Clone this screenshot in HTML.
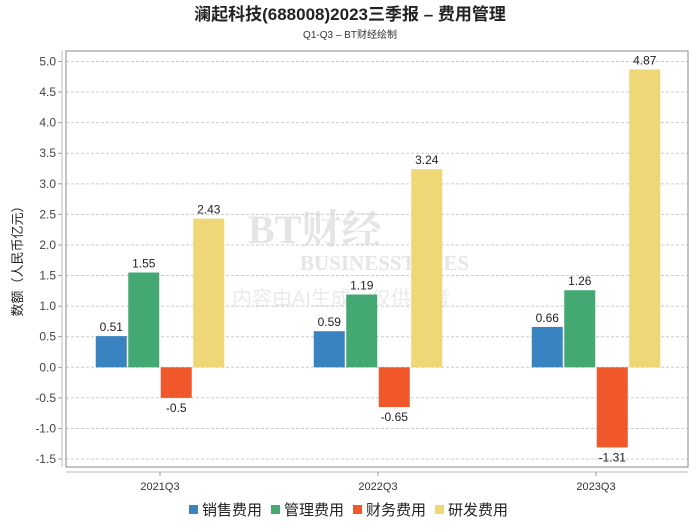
<!DOCTYPE html>
<html><head><meta charset="utf-8"><style>
body{margin:0;background:#fff;}
svg text{font-family:"Liberation Sans","Noto Sans CJK SC",sans-serif;}
</style></head><body>
<svg id="c" width="700" height="524" xmlns="http://www.w3.org/2000/svg">
<text x="350" y="20" text-anchor="middle" font-size="17" font-weight="bold" fill="#222">澜起科技(688008)2023三季报 – 费用管理</text>
<text x="350" y="38" text-anchor="middle" font-size="10" fill="#333">Q1-Q3 – BT财经绘制</text>
<g id="wm" opacity="0.3">
<text x="248" y="243" font-size="40" font-weight="bold" fill="#aaa" style="font-family:'Liberation Serif','Noto Serif CJK SC',serif">BT财经</text>
<text x="300" y="270" font-size="21" font-weight="bold" fill="#aaa" style="font-family:'Liberation Serif',serif">BUSINESSTIMES</text>
<text x="232" y="305" font-size="20" fill="#bbb">内容由AI生成，仅供参考</text>
</g>
<g id="grid"></g><g id="bars"></g><g id="axes"></g>
<text transform="translate(22,258) rotate(-90)" text-anchor="middle" font-size="13" fill="#222">数额（人民币亿元）</text>
<g id="legend"></g>
</svg>
<script>
const categories=["2021Q3","2022Q3","2023Q3"];
const seriesNames=["销售费用","管理费用","财务费用","研发费用"];
const colors=["#3a83c1","#44a872","#f0572a","#efd677"];
const sales=[0.51,0.59,0.66];
const admin=[1.55,1.19,1.26];
const finance=[-0.5,-0.65,-1.31];
const rnd=[2.43,3.24,4.87];
const yTicks=[5.0,4.5,4.0,3.5,3.0,2.5,2.0,1.5,1.0,0.5,0.0,-0.5,-1.0,-1.5];
const series=[sales,admin,finance,rnd];
const NS="http://www.w3.org/2000/svg";
const L=66,R=688,T=51,B=467;
const y=v=>367.3-v*61.16;
const cx=i=>160+218*i;
function mk(tag,at,p){const e=document.createElementNS(NS,tag);for(const k in at)e.setAttribute(k,at[k]);document.getElementById(p).appendChild(e);return e;}
yTicks.forEach(t=>{
 const l=mk('line',{x1:L,x2:R,y1:y(t),y2:y(t),stroke:'#ccc','stroke-dasharray':'3,2'},'grid');
 
 
 mk('line',{x1:58,x2:62,y1:y(t),y2:y(t),stroke:'#999'},'axes');
 const tx=mk('text',{x:56,y:y(t)+4,'text-anchor':'end','font-size':12,fill:'#444'},'axes');
 tx.textContent=t.toFixed(1);
 
 
});
mk('rect',{x:L,y:T,width:R-L,height:B-T,fill:'none',stroke:'#888','stroke-width':1},'axes');
mk('line',{x1:62,x2:62,y1:T,y2:B,stroke:'#bbb'},'axes');
mk('line',{x1:L,x2:R,y1:472,y2:472,stroke:'#bbb'},'axes');
const bw=31,gap=1.5;
categories.forEach((c,i)=>{
 mk('line',{x1:cx(i),x2:cx(i),y1:472,y2:476,stroke:'#999'},'axes');
 const t=mk('text',{x:cx(i),y:490,'text-anchor':'middle','font-size':11,fill:'#333'},'axes');
 t.textContent=c;
 
 
 series.forEach((s,j)=>{
  const v=s[i];const x=cx(i)-2*bw-1.5*gap+j*(bw+gap);
  const r=mk('rect',{x:x,y:Math.min(y(v),y(0)),width:bw,height:Math.abs(y(v)-y(0)),fill:colors[j]},'bars');
  
  
  const lb=mk('text',{x:x+bw/2,y:v>=0?y(v)-5:y(v)+14,'text-anchor':'middle','font-size':12,fill:'#222'},'bars');
  lb.textContent=String(v);
  
  
 });
});
let lx=189;
seriesNames.forEach((n,j)=>{
 const g=mk('g',{},'legend');
 
 
 const r=document.createElementNS(NS,'rect');r.setAttribute('x',lx);r.setAttribute('y',505);r.setAttribute('width',9);r.setAttribute('height',9);r.setAttribute('fill',colors[j]);g.appendChild(r);
 const t=document.createElementNS(NS,'text');t.setAttribute('x',lx+13);t.setAttribute('y',515);t.setAttribute('font-size',15);t.setAttribute('fill','#222');t.textContent=n;g.appendChild(t);
 lx+=82;
});
</script>
</body></html>
